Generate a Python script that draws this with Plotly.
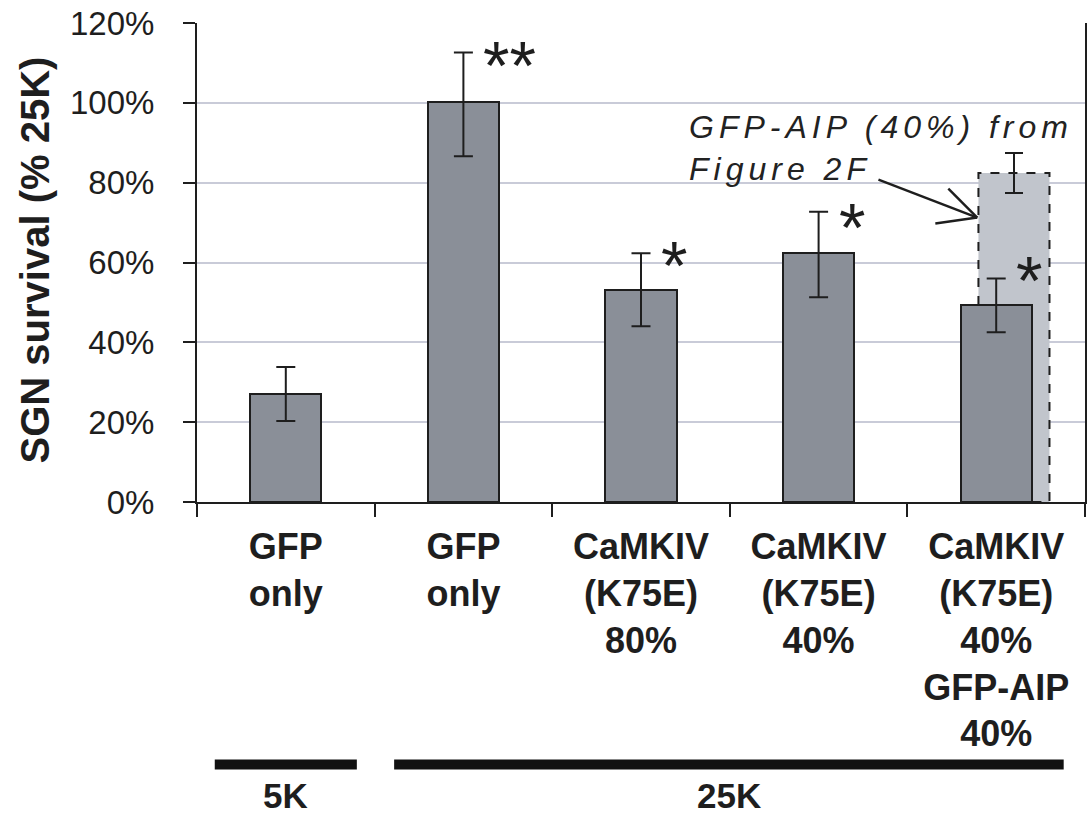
import plotly.graph_objects as go

# ---------------- data ----------------
categories = ["GFP<br>only", "GFP<br>only", "CaMKIV<br>(K75E)<br>80%",
              "CaMKIV<br>(K75E)<br>40%", "CaMKIV<br>(K75E)<br>40%<br>GFP-AIP<br>40%"]
survival = [27.0, 100.2, 53.2, 62.3, 49.4]           # % of 25K
err_plus = [6.8, 12.4, 9.1, 10.4, 6.6]
err_minus = [6.7, 13.6, 9.2, 11.0, 6.9]

aip_category = 4
aip_value = [82.4]
aip_err = [5.1]

stars = ["**", "*", "*", "*"]
star_cat = [1, 2, 3, 4]
star_y = [112.0, 62.0, 71.5, 58.0]

groups = ["5K", "25K"]
group_start = [-0.40, 0.61]
group_end = [0.40, 4.38]

yticks = [0, 20, 40, 60, 80, 100, 120]
ytick_labels = ["0%", "20%", "40%", "60%", "80%", "100%", "120%"]

# ---------------- styling ----------------
FONT = "Arial, 'Liberation Sans', sans-serif"
DARK = "#8a8f98"
LIGHT = "#c1c5cc"
EDGE = "#1e1e1e"
GRID = "#c9cbd8"
W = 0.4
AIP_OFFSET = 0.1

xpos = list(range(len(categories)))

fig = go.Figure()

# light GFP-AIP bar (from Figure 2F): error bars only, body drawn as dashed shape
fig.add_trace(go.Bar(
    x=[aip_category + AIP_OFFSET], y=aip_value, width=W,
    marker=dict(color="rgba(0,0,0,0)", line=dict(width=0)),
    error_y=dict(type="data", array=aip_err, color=EDGE, thickness=2, width=9),
    showlegend=False, hoverinfo="skip"))

fig.add_trace(go.Bar(
    x=xpos, y=survival, width=W,
    marker=dict(color=DARK, line=dict(color=EDGE, width=2)),
    error_y=dict(type="data", symmetric=False, array=err_plus, arrayminus=err_minus,
                 color=EDGE, thickness=2, width=9.5),
    showlegend=False))

shapes = []
# dashed light bar body
shapes.append(dict(type="rect", xref="x", yref="y", layer="between",
                   x0=aip_category + AIP_OFFSET - W / 2, x1=aip_category + AIP_OFFSET + W / 2,
                   y0=0, y1=aip_value[0],
                   fillcolor=LIGHT, line=dict(color=EDGE, width=2, dash="dash")))
# group bars (5K / 25K)
for g0, g1 in zip(group_start, group_end):
    shapes.append(dict(type="line", xref="x", yref="paper", x0=g0, x1=g1,
                       y0=-0.548, y1=-0.548, line=dict(color="#111", width=10)))

# arrow from the annotation to the light bar (pixel -> paper)
def px(xp):
    return (xp - 197) / 890.0

def py(yp):
    return (502 - yp) / 480.0

tip = (979, 217)
for start in [(880, 179), (950, 188), (937, 223)]:
    shapes.append(dict(type="line", xref="paper", yref="paper",
                       x0=px(start[0]), y0=py(start[1]), x1=px(tip[0]), y1=py(tip[1]),
                       line=dict(color="#1e1e1e", width=2.5)))

annotations = []
for s, c, yv in zip(stars, star_cat, star_y):
    annotations.append(dict(x=c, y=yv, xref="x", yref="y", text=s, showarrow=False,
                            xshift=46 if s == "**" else 33, yshift=-10, xanchor="center", yanchor="middle",
                            font=dict(family=FONT, size=68, color="#1e1e1e")))
for g, g0, g1 in zip(groups, group_start, group_end):
    annotations.append(dict(x=(g0 + g1) / 2, y=-0.612, xref="x", yref="paper",
                            text="<b>%s</b>" % g, showarrow=False, xanchor="center", yanchor="middle",
                            font=dict(family=FONT, size=35, color="#1e1e1e")))
annotations.append(dict(x=px(688), y=py(106), xref="paper", yref="paper", xanchor="left", yanchor="top",
                        align="left", showarrow=False,
                        text="<i><span style='letter-spacing:5px'>GFP-AIP (40%) from</span></i><br>"
                             "<i><span style='letter-spacing:5px'>Figure 2F</span></i>",
                        font=dict(family=FONT, size=32, color="#222")))
annotations.append(dict(x=px(35), y=0.505, xref="paper", yref="paper", xanchor="center", yanchor="middle",
                        textangle=-90, showarrow=False, text="<b>SGN survival (% 25K)</b>",
                        font=dict(family=FONT, size=40, color="#1e1e1e")))

fig.update_layout(
    width=1092, height=818,
    margin=dict(l=197, r=5, t=22, b=316),
    paper_bgcolor="white", plot_bgcolor="white",
    barmode="overlay", bargap=0,
    font=dict(family=FONT, color="#1e1e1e"),
    shapes=shapes, annotations=annotations,
    xaxis=dict(range=[-0.5, 4.5], tickvals=xpos, ticktext=["<b>%s</b>" % c for c in categories],
               ticks="", showgrid=False, zeroline=False, showline=True, linecolor=EDGE, linewidth=2,
               tickfont=dict(family=FONT, size=36, color="#1e1e1e"), ticklabelstandoff=12,
               minor=dict(tickvals=[i - 0.5 for i in range(len(categories) + 1)], ticks="outside",
                          ticklen=13, tickwidth=2, tickcolor=EDGE)),
    yaxis=dict(range=[0, 120], tickvals=yticks, ticktext=ytick_labels, ticks="outside", ticklen=12,
               tickwidth=2, tickcolor=EDGE, showline=True, linecolor=EDGE, linewidth=2, mirror=True,
               showgrid=True, gridcolor=GRID, gridwidth=2, zeroline=False,
               tickfont=dict(family=FONT, size=33, color="#1e1e1e"), ticklabelstandoff=22),
)

fig.write_html("out.html", config={"displayModeBar": False},
               post_script="document.body.style.margin='0';document.body.style.overflow='hidden';")
